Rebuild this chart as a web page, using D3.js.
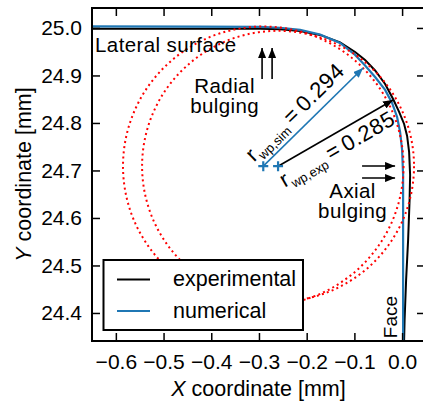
<!DOCTYPE html>
<html>
<head>
<meta charset="utf-8">
<script src="https://cdn.jsdelivr.net/npm/d3@7"></script>
<style>
  html, body { margin: 0; padding: 0; background: #fff; }
  svg { display: block; font-family: "Liberation Sans", Arial, sans-serif; }
</style>
</head>
<body>
<div id="chart"></div>
<script>
// Profile of the worn edge, X/Y in mm
const X_TICKS = [-0.6, -0.5, -0.4, -0.3, -0.2, -0.1, 0.0];
const Y_TICKS = [24.4, 24.5, 24.6, 24.7, 24.8, 24.9, 25.0];

const experimental = [
  [-0.650, 24.9985], [-0.4235, 24.9985], [-0.2977, 24.9983], [-0.2558, 24.9973],
  [-0.2138, 24.9937], [-0.1719, 24.9853], [-0.130, 24.9695], [-0.0985, 24.9495],
  [-0.0776, 24.9326], [-0.0566, 24.9105], [-0.0356, 24.8821], [-0.0189, 24.8505],
  [-0.0063, 24.8232], [0.0042, 24.7979], [0.0105, 24.7726], [0.0147, 24.7389],
  [0.0168, 24.6905], [0.0157, 24.6379], [0.0126, 24.5537], [0.0084, 24.4695],
  [0.0052, 24.3853], [0.0042, 24.3411]
];

const numerical = [
  [-0.650, 25.0032], [-0.4235, 25.0029], [-0.2977, 25.0021], [-0.2558, 25.0004],
  [-0.2138, 24.9958], [-0.1719, 24.9863], [-0.130, 24.9684], [-0.0985, 24.9432],
  [-0.0776, 24.9211], [-0.0566, 24.8968], [-0.0356, 24.8695], [-0.021, 24.8421],
  [-0.0105, 24.8126], [-0.0042, 24.7811], [0.0, 24.7432], [0.0021, 24.6905],
  [0.0021, 24.5958], [0.0021, 24.4695], [0.0021, 24.3411]
];

// fitted edge radii (centre + radius)
const simCircle = { cx: -0.291, cy: 24.709, r: 0.294 };
const expCircle = { cx: -0.260, cy: 24.709, r: 0.285 };
const simTip = [-0.0818, 24.9158];
const expTip = [-0.0189, 24.8484];

// bulging arrows
const radialArrowsX = [-0.2935, -0.2725];
const radialArrowsY = [24.8926, 24.958];
const axialArrowsY = [24.7095, 24.684];
const axialArrowsX = [-0.0839, -0.0147];

const LEGEND = [
  { label: "experimental", color: "#000000" },
  { label: "numerical", color: "#1f77b4" }
];

const width = 423;
const height = 404;
const margin = { top: 8, right: -2, bottom: 63, left: 92 };

const svg = d3.select("#chart").append("svg")
  .attr("width", width)
  .attr("height", height);

const x = d3.scaleLinear()
  .domain([-0.650, 0.048])
  .range([margin.left, width - margin.right]);

const y = d3.scaleLinear()
  .domain([24.341, 25.042])
  .range([height - margin.bottom, margin.top]);

const fmt = d3.format(".1f");

// arrow heads
const defs = svg.append("defs");
function addMarker(id, color) {
  defs.append("marker")
    .attr("id", id)
    .attr("viewBox", "0 0 10 8")
    .attr("refX", 10)
    .attr("refY", 4)
    .attr("markerWidth", 10)
    .attr("markerHeight", 8)
    .attr("markerUnits", "userSpaceOnUse")
    .attr("orient", "auto")
    .append("path")
    .attr("d", "M0,0 L10,4 L0,8 Z")
    .attr("fill", color);
}
addMarker("head-black", "#000");
addMarker("head-blue", "#1f77b4");

defs.append("clipPath").attr("id", "plot-clip")
  .append("rect")
  .attr("x", margin.left)
  .attr("y", margin.top)
  .attr("width", width - margin.left - margin.right)
  .attr("height", height - margin.top - margin.bottom);

const plot = svg.append("g").attr("clip-path", "url(#plot-clip)");

const line = d3.line().x((d) => x(d[0])).y((d) => y(d[1]));

plot.append("path")
  .datum(experimental)
  .attr("fill", "none")
  .attr("stroke", "#000")
  .attr("stroke-width", 2)
  .attr("d", line);

plot.append("path")
  .datum(numerical)
  .attr("fill", "none")
  .attr("stroke", "#1f77b4")
  .attr("stroke-width", 2.2)
  .attr("d", line);

// red dotted fitted circles
[simCircle, expCircle].forEach((c) => {
  plot.append("ellipse")
    .attr("cx", x(c.cx))
    .attr("cy", y(c.cy))
    .attr("rx", x(c.r) - x(0))
    .attr("ry", y(0) - y(c.r))
    .attr("fill", "none")
    .attr("stroke", "#ff0000")
    .attr("stroke-width", 2)
    .attr("stroke-dasharray", "2 3.2");
});

// radius arrows
function arrow(from, to, color, marker, sw) {
  plot.append("line")
    .attr("x1", x(from[0])).attr("y1", y(from[1]))
    .attr("x2", x(to[0])).attr("y2", y(to[1]))
    .attr("stroke", color)
    .attr("stroke-width", sw)
    .attr("marker-end", `url(#${marker})`);
}
arrow([simCircle.cx, simCircle.cy], simTip, "#1f77b4", "head-blue", 1.6);
arrow([expCircle.cx, expCircle.cy], expTip, "#000", "head-black", 1.6);

radialArrowsX.forEach((ax) => arrow([ax, radialArrowsY[0]], [ax, radialArrowsY[1]], "#000", "head-black", 1.6));
axialArrowsY.forEach((ay) => arrow([axialArrowsX[0], ay], [axialArrowsX[1], ay], "#000", "head-black", 1.6));

// centre markers
[simCircle, expCircle].forEach((c) => {
  const cx = x(c.cx), cy = y(c.cy);
  plot.append("path")
    .attr("d", `M${cx - 5},${cy} H${cx + 5} M${cx},${cy - 5} V${cy + 5}`)
    .attr("stroke", "#1f77b4")
    .attr("stroke-width", 2.2);
});

// rotated radius labels
function radiusLabel(c, tip, sub, value, along, offset) {
  const x0 = x(c.cx), y0 = y(c.cy);
  const x1 = x(tip[0]), y1 = y(tip[1]);
  const ang = Math.atan2(y1 - y0, x1 - x0);
  const ux = Math.cos(ang), uy = Math.sin(ang);
  const nx = -uy, ny = ux; // points "down" relative to text
  const px = x0 + ux * along + nx * offset;
  const py = y0 + uy * along + ny * offset;
  const t = svg.append("text")
    .attr("transform", `translate(${px},${py}) rotate(${ang * 180 / Math.PI})`)
    .style("font-size", "22px");
  t.append("tspan").text("r");
  t.append("tspan").attr("dx", 1).attr("dy", 5).style("font-size", "13px").text(sub);
  t.append("tspan").attr("dx", 4).attr("dy", -5).text("=");
  t.append("tspan").attr("dx", 5).style("letter-spacing", "0.6px").text(value);
}
radiusLabel(simCircle, simTip, "wp,sim", "0.294", -4, -9);
radiusLabel(expCircle, expTip, "wp,exp", "0.285", -5, 22);

// text annotations (multi-line ones as tspans)
function note(tx, ty, lines, anchor) {
  const t = svg.append("text")
    .attr("x", x(tx))
    .attr("y", y(ty))
    .attr("text-anchor", anchor)
    .style("font-size", "20.5px")
    .style("letter-spacing", "0.4px");
  lines.forEach((s, i) => {
    t.append("tspan")
      .attr("x", x(tx))
      .attr("dy", i === 0 ? 0 : 19.5)
      .text(s);
  });
}
note(-0.6436, 24.9495, ["Lateral surface"], "start");
note(-0.372, 24.863, ["Radial", "bulging"], "middle");
note(-0.1038, 24.642, ["Axial", "bulging"], "middle");

svg.append("text")
  .attr("transform", `translate(${x(-0.0105)},${y(24.347)}) rotate(-90)`)
  .style("font-size", "19px")
  .text("Face");

// axes with inward ticks on all four sides
const axBottom = svg.append("g")
  .attr("transform", `translate(0,${height - margin.bottom})`)
  .call(d3.axisBottom(x).tickValues(X_TICKS).tickSizeInner(-8).tickSizeOuter(0)
    .tickPadding(13).tickFormat(fmt));
const axLeft = svg.append("g")
  .attr("transform", `translate(${margin.left},0)`)
  .call(d3.axisLeft(y).tickValues(Y_TICKS).tickSizeInner(-8).tickSizeOuter(0)
    .tickPadding(10).tickFormat(fmt));
const axTop = svg.append("g")
  .attr("transform", `translate(0,${margin.top})`)
  .call(d3.axisTop(x).tickValues(X_TICKS).tickSizeInner(-8).tickSizeOuter(0).tickFormat(""));
const axRight = svg.append("g")
  .attr("transform", `translate(${width - margin.right},0)`)
  .call(d3.axisRight(y).tickValues(Y_TICKS).tickSizeInner(-8).tickSizeOuter(0).tickFormat(""));

[axBottom, axLeft, axTop, axRight].forEach((g) => {
  g.select(".domain").remove();
  g.selectAll(".tick line").attr("stroke", "#000").attr("stroke-width", 1.5);
  g.selectAll(".tick text")
    .attr("fill", "#000")
    .style("font-family", "'Liberation Sans', Arial, sans-serif")
    .style("font-size", "21px");
});

svg.append("rect")
  .attr("x", margin.left)
  .attr("y", margin.top)
  .attr("width", width - margin.left - margin.right)
  .attr("height", height - margin.top - margin.bottom)
  .attr("fill", "none")
  .attr("stroke", "#000")
  .attr("stroke-width", 2);

// axis titles
const xt = svg.append("text")
  .attr("x", (margin.left + width - margin.right) / 2)
  .attr("y", 396)
  .attr("text-anchor", "middle")
  .style("font-size", "21.5px");
xt.append("tspan").style("font-style", "italic").text("X");
xt.append("tspan").text(" coordinate [mm]");

const yt = svg.append("text")
  .attr("transform", `translate(31,${(margin.top + height - margin.bottom) / 2}) rotate(-90)`)
  .attr("text-anchor", "middle")
  .style("font-size", "21.5px");
yt.append("tspan").style("font-style", "italic").text("Y");
yt.append("tspan").text(" coordinate [mm]");

// legend
const lg = svg.append("g");
lg.append("rect")
  .attr("x", 103.5).attr("y", 260)
  .attr("width", 199.5).attr("height", 70)
  .attr("fill", "#fff")
  .attr("stroke", "#000")
  .attr("stroke-width", 2);
LEGEND.forEach((d, i) => {
  const ly = 279.5 + i * 31.5;
  lg.append("line")
    .attr("x1", 117).attr("x2", 150)
    .attr("y1", ly).attr("y2", ly)
    .attr("stroke", d.color)
    .attr("stroke-width", 2);
  lg.append("text")
    .attr("x", 173).attr("y", ly + 6.5)
    .style("font-size", "21.5px")
    .text(d.label);
});
</script>
</body>
</html>
